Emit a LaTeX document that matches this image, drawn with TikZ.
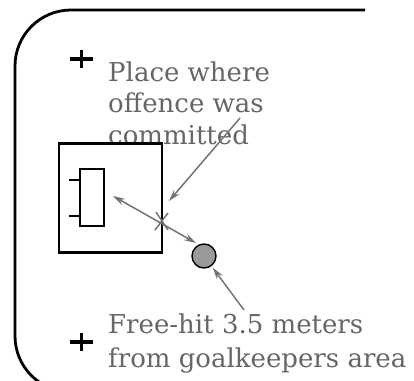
\documentclass[tikz,border=0pt]{standalone}
\usepackage{fontspec}
\setmainfont{DejaVu Serif}
\usetikzlibrary{arrows.meta}
\tikzset{
  lbl/.style={anchor=base west, inner sep=0pt, text=black!60, font=\fontsize{26}{31}\selectfont},
  plus/.style={line width=3.5pt, black},
  frame/.style={line width=2.8pt, black},
  tip/.style={Stealth[length=12pt,width=7pt,fill=black!30]},
  gar/.style={draw=black!55, line width=1.5pt, -{Stealth[length=12pt,width=7pt,fill=black!30]}},
  garr/.style={draw=black!55, line width=1.5pt, {Stealth[length=12pt,width=7pt,fill=black!30]}-{Stealth[length=12pt,width=7pt,fill=black!30]}},
}
\begin{document}
\begin{tikzpicture}[x=1pt,y=-1pt]
\useasboundingbox (0,0) rectangle (414,380);
\clip (0,0) rectangle (414,380);
% frame
\draw[frame, rounded corners=56pt] (365,10) -- (15,10) -- (15,392) -- (250,392);
% plus signs
\draw[plus] (70,59) -- (93,59) (81.5,50) -- (81.5,68);
\draw[plus] (70,342) -- (93,342) (81.5,333) -- (81.5,351);
% text
\node[lbl] (t1) at (108,81) {Place where};
\node[lbl] (t2) at (108,112.5) {offence was};
\node[lbl] (t3) at (108,144) {committed};
\node[lbl] (b1) at (108,333) {Free-hit 3.5 meters};
\node[lbl] (b2) at (108,367) {from goalkeepers area};
% goal area
\node[draw, line width=2.2pt, minimum width=103pt, minimum height=109pt, inner sep=0pt] (area) at (110.5,198) {};
\node[draw, line width=1.8pt, minimum width=24pt, minimum height=57pt, inner sep=0pt] (goal) at (92,197.5) {};
\draw[line width=1.6pt] (goal.west |- 0,180) -- ++(-10,0);
\draw[line width=1.6pt] (goal.west |- 0,216) -- ++(-10,0);
% ball
\node[circle, draw, line width=1.4pt, fill=black!40, minimum size=24pt, inner sep=0pt] (ball) at (204,256) {};
% cross (place of offence)
\coordinate (cross) at (162,221);
\draw[black!55, line width=1.5pt] ([shift={(-6,-9)}]cross) -- ([shift={(6,9)}]cross);
\draw[black!55, line width=1.5pt] ([shift={(-7,9)}]cross) -- ([shift={(6,-8)}]cross);
% arrows
\coordinate (d1) at (113,196);
\coordinate (d2) at (196,243);
\draw[garr] (d1) -- (d2);
\coordinate (a1s) at (240,118);
\coordinate (a1e) at (169,201);
\draw[gar] (a1s) -- (a1e);
\coordinate (a2s) at (244,310);
\draw[gar, shorten >=2pt] (a2s) -- (ball);
\end{tikzpicture}
\end{document}
